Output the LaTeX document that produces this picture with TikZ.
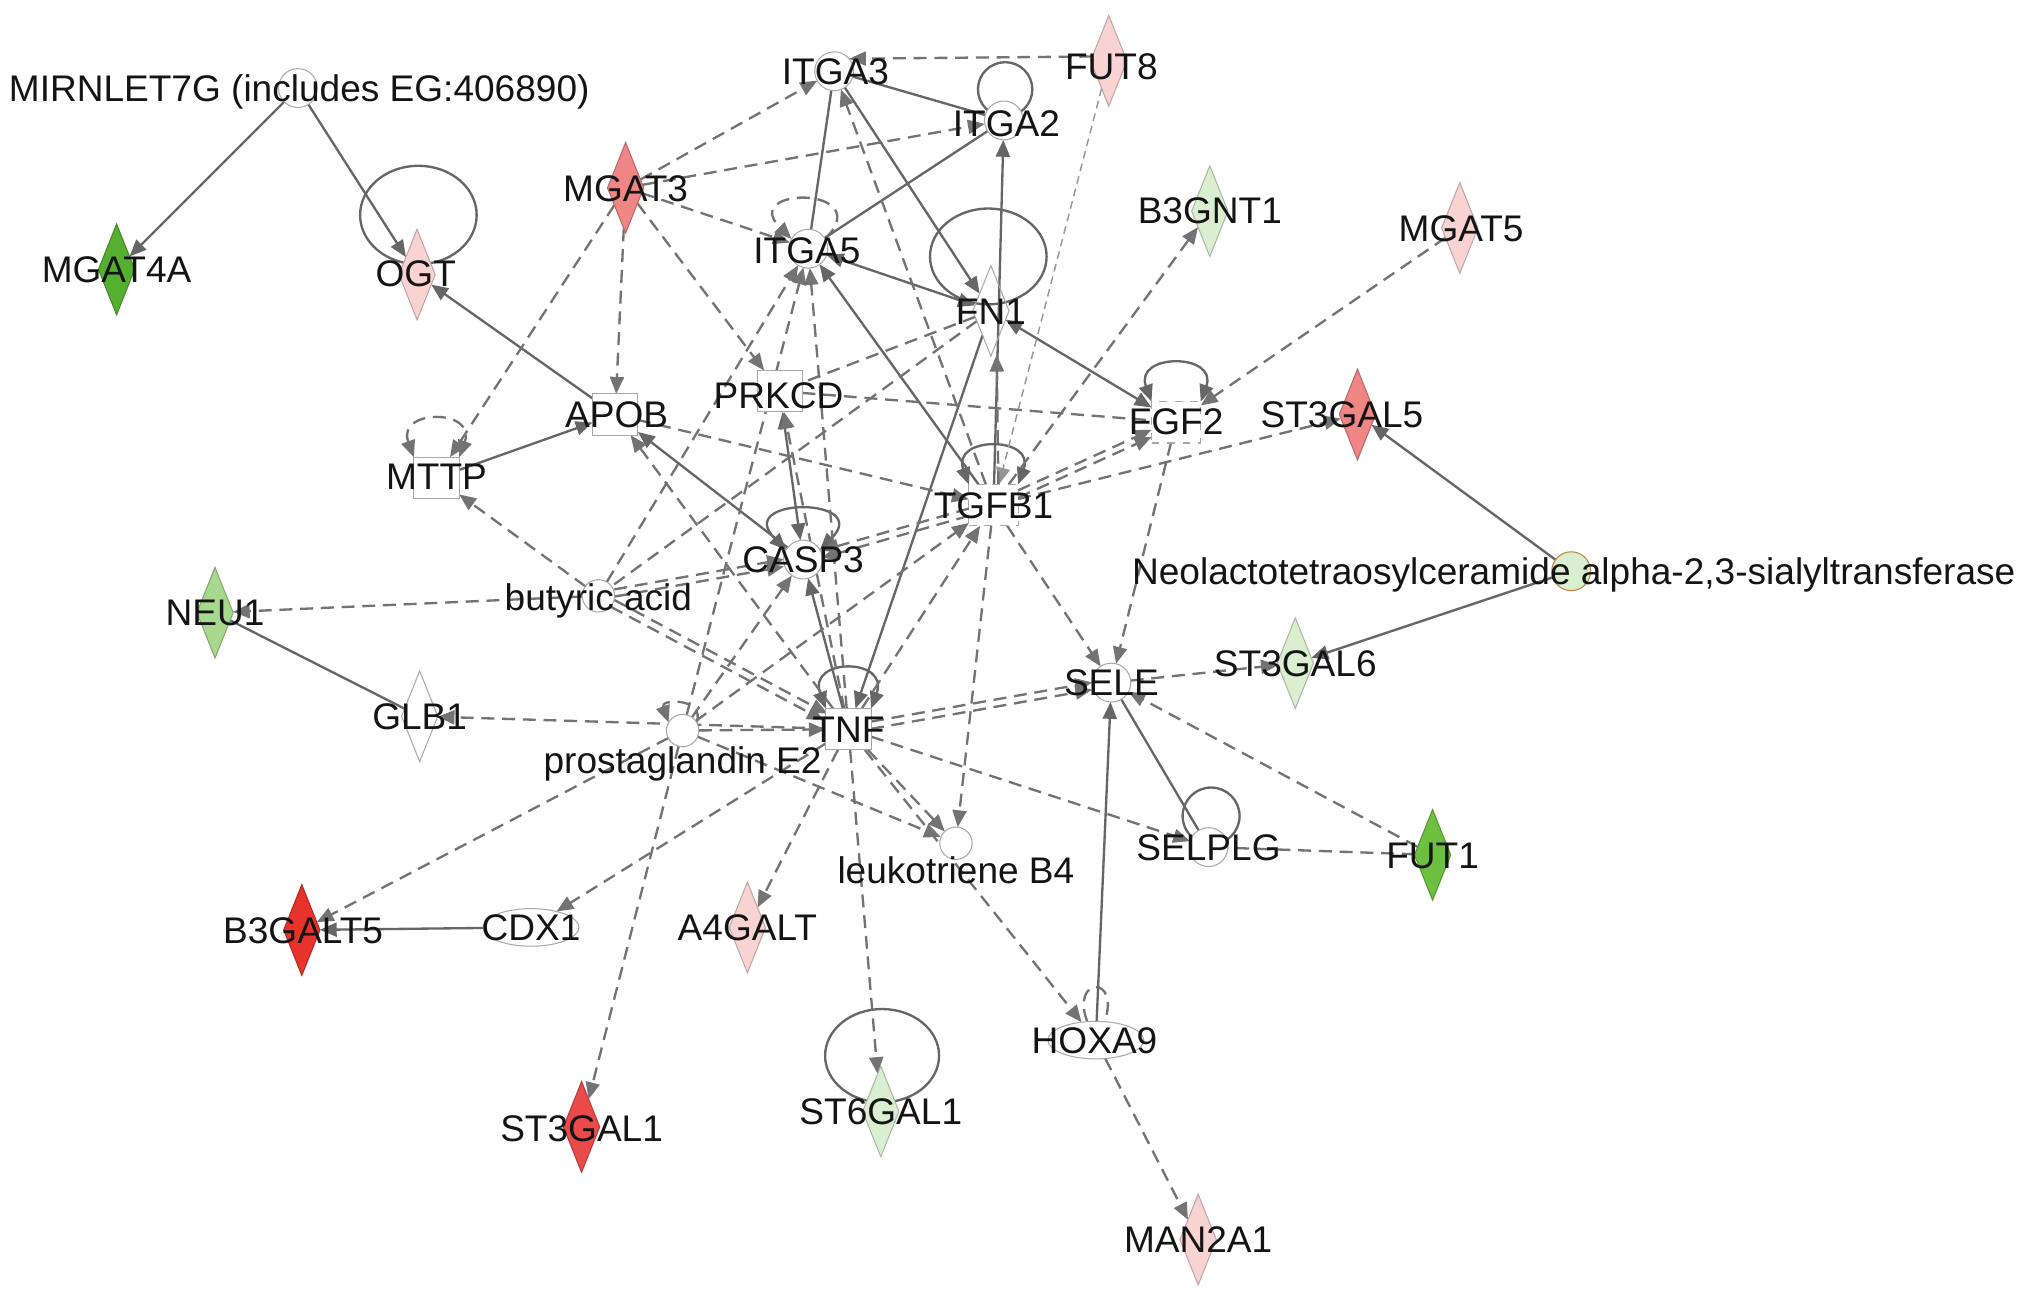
\documentclass[tikz,border=0pt]{standalone}
\usepackage{fontspec}
\setmainfont{Liberation Sans}
\usetikzlibrary{shapes.geometric,arrows.meta,backgrounds}
\definecolor{edgec}{HTML}{666666}
\definecolor{dashc}{HTML}{737373}
\definecolor{gA}{HTML}{55B030}
\definecolor{gB}{HTML}{6CC040}
\definecolor{gC}{HTML}{A8D88E}
\definecolor{gD}{HTML}{D9EFD0}
\definecolor{pA}{HTML}{F9D2D2}
\definecolor{rA}{HTML}{EF8585}
\definecolor{rB}{HTML}{E8332B}
\definecolor{rC}{HTML}{E94A4A}
\definecolor{shapec}{HTML}{A8A8A8}
\begin{document}
\begin{tikzpicture}[x=0.5pt,y=0.5pt,
  every node/.style={inner sep=0pt,outer sep=0pt},
  lbl/.style={font=\fontsize{14.3}{16}\selectfont, text=black!92, text height=10.2pt, text depth=0pt},
  dia/.style={diamond, fill=#1, draw=#1!78!black, line width=0.4pt, minimum width=14pt, minimum height=35pt, shape aspect=0.4},
  ent/.style={circle, draw=shapec, fill=white, line width=0.4pt, minimum size=15pt},
  chem/.style={circle, draw=shapec, fill=white, line width=0.4pt, minimum size=12.5pt},
  rbox/.style={rectangle, draw=shapec, fill=white, line width=0.4pt, minimum width=17.5pt, minimum height=16pt},
  dbox/.style={rectangle, draw=shapec, dashed, line width=0.4pt, minimum width=19pt, minimum height=16pt},
  ell/.style={ellipse, draw=shapec, fill=white, line width=0.4pt, minimum width=37pt, minimum height=14.5pt},
  sl/.style={draw=edgec, line width=0.9pt},
  dl/.style={draw=dashc, line width=0.9pt, dash pattern=on 5pt off 3pt},
  fdl/.style={draw=dashc!75, line width=0.55pt, dash pattern=on 3pt off 2pt},
  ah/.style={-{Triangle[length=6.5pt,width=5.4pt]}},
  bh/.style={{Triangle[length=6.5pt,width=5.4pt]}-{Triangle[length=6.5pt,width=5.4pt]}}
]
\useasboundingbox (0,0) rectangle (1568,-1005);

% ---------- shapes ----------
\node[dia=gA] (mgat4a) at (90,-208) {};
\node[dia=pA] (ogt) at (322,-212) {};
\node[dia=rA] (mgat3) at (483,-145) {};
\node[dia=pA] (fut8) at (856,-47) {};
\node[dia=gD] (b3gnt1) at (934,-163) {};
\node[dia=pA] (mgat5) at (1127,-176) {};
\node[dia=white, fill=none, draw=shapec] (fn1) at (765,-240) {};
\node[dia=rA] (st3gal5) at (1048,-320) {};
\node[dia=gC] (neu1) at (166,-473) {};
\node[dia=gD] (st3gal6) at (1000,-512) {};
\node[dia=white, draw=shapec] (glb1) at (324,-553) {};
\node[dia=gB] (fut1) at (1106,-660) {};
\node[dia=rB] (b3galt5) at (233,-718) {};
\node[dia=pA] (a4galt) at (577,-716) {};
\node[dia=rC] (st3gal1) at (449,-870) {};
\node[dia=gD] (st6gal1) at (680,-858) {};
\node[dia=pA] (man2a1) at (925,-957) {};

\node[ent] (mir) at (230,-68) {};
\node[ent] (itga3) at (644,-55) {};
\node[ent] (itga2) at (775,-93) {};
\node[ent] (itga5) at (624,-192) {};
\node[ent] (casp3) at (620,-432) {};
\node[ent] (sele) at (858,-527) {};
\node[ent] (selplg) at (933,-654) {};
\node[ent, fill=gD, draw=orange!55!gray] (neo) at (1213,-441) {};
\node[chem] (but) at (462,-460) {};
\node[chem] (pge) at (527,-564) {};
\node[chem] (ltb) at (738,-651) {};

\node[rbox] (prkcd) at (602,-302) {};
\node[rbox] (apob) at (475,-320) {};
\node[rbox] (mttp) at (337,-369) {};
\node[rbox] (tnf) at (655,-563) {};
\node[dbox] (fgf2) at (908,-326) {};
\node[dbox] (tgfb1) at (767,-390) {};

\node[ell] (cdx1) at (410,-716) {};
\node[ell] (hoxa9) at (846,-803) {};

% ---------- connectors ----------
\begin{pgfonlayer}{background}
\fill[white] (0,0) rectangle (1568,-1005);

% self loops
\draw[sl] (323,-166) ellipse [x radius=45, y radius=38];
\draw[sl] (776,-69) circle [radius=21];
\draw[sl] (763,-198) ellipse [x radius=45, y radius=37];
\draw[sl] (681,-815) ellipse [x radius=44, y radius=36];
\draw[sl] (935,-630) circle [radius=22];
\draw[dl,ah] (itga5.30) .. controls +(45:58) and +(135:58) .. (itga5.150);
\draw[sl,bh] (casp3.150) .. controls +(135:58) and +(45:58) .. (casp3.30);
\draw[sl,bh] (tnf.north west) .. controls +(110:42) and +(70:42) .. (tnf.north east);
\draw[sl,bh] (tgfb1.north west) .. controls +(110:40) and +(70:40) .. (tgfb1.north east);
\draw[sl,bh] (fgf2.north west) .. controls +(110:40) and +(70:40) .. (fgf2.north east);
\draw[dl,bh] (mttp.north west) .. controls +(110:40) and +(70:40) .. (mttp.north east);
\draw[dl] (hoxa9.115) .. controls +(110:38) and +(70:38) .. (hoxa9.65);
\draw[dl,ah] (pge.30) .. controls +(70:20) and +(110:20) .. (pge.150);

% solid relations
\draw[sl,ah] (mir) -- (mgat4a);
\draw[sl,ah] (mir) -- (ogt);
\draw[sl,ah] (apob) -- (ogt);
\draw[sl] (itga3) -- (itga2);
\draw[sl] (itga3) -- (itga5);
\draw[sl,ah] (itga3) -- (fn1);
\draw[sl] (itga2) -- (itga5);
\draw[sl,bh] (itga5) -- (fn1);
\draw[sl,bh] (fn1) -- (fgf2);
\draw[sl,ah] (tgfb1) -- (itga2);
\draw[sl,ah] (tgfb1) -- (itga5);
\draw[sl,ah] (fn1) -- (tnf);
\draw[sl,ah] (mttp) -- (apob);
\draw[sl,ah] (casp3) -- (apob);
\draw[sl,bh] (prkcd) -- (casp3);
\draw[sl,ah] (tnf) -- (casp3);
\draw[sl] (neu1) -- (glb1);
\draw[sl,ah] (cdx1) -- (b3galt5);
\draw[sl,ah] (hoxa9) -- (sele);
\draw[sl] (sele) -- (selplg);
\draw[sl,ah] (neo) -- (st3gal5);
\draw[sl,ah] (neo) -- (st3gal6);

% dashed relations
\draw[dl,ah] (fut8.165) -- (itga3.40);
\draw[fdl,ah] (fut8) -- (tgfb1);
\draw[dl,ah] (mgat3) -- (itga3);
\draw[dl,ah] (mgat3) -- (itga2);
\draw[dl,ah] (mgat3) -- (itga5);
\draw[dl,ah] (mgat3) -- (prkcd);
\draw[dl,ah] (mgat3) -- (apob);
\draw[dl,ah] (mgat3) -- (mttp);
\draw[dl,ah] (tgfb1) -- (itga3);
\draw[dl,ah,transform canvas={xshift=2pt}] (tgfb1) -- (fn1);
\draw[dl,ah] (but) -- (itga5);
\draw[dl,ah] (tnf) -- (itga5);
\draw[dl,ah] (pge) -- (itga5);
\draw[dl] (fn1) -- (prkcd);
\draw[dl] (fn1) -- (but);
\draw[dl] (prkcd) -- (fgf2);
\draw[dl,ah] (tnf) -- (prkcd);
\draw[dl,ah] (tnf) -- (apob);
\draw[dl,ah] (apob) -- (tgfb1);
\draw[dl,ah] (but) -- (mttp);
\draw[dl,ah] (but) -- (neu1);
\draw[dl,ah,transform canvas={yshift=1.4pt}] (but) -- (casp3);
\draw[dl,ah,transform canvas={yshift=-1.4pt}] (but) -- (casp3);
\draw[dl,ah,transform canvas={shift={(0.7pt,1.3pt)}}] (but) -- (tnf);
\draw[dl,ah,transform canvas={shift={(-0.7pt,-1.3pt)}}] (but) -- (tnf);
\draw[dl,ah,transform canvas={yshift=1.4pt}] (tgfb1) -- (casp3);
\draw[dl,ah,transform canvas={yshift=-1.4pt}] (tgfb1) -- (casp3);
\draw[dl,ah,transform canvas={yshift=1.4pt}] (tgfb1) -- (fgf2);
\draw[dl,ah,transform canvas={yshift=-1.4pt}] (tgfb1) -- (fgf2);
\draw[dl,ah] (tgfb1) -- (st3gal5);
\draw[dl,ah] (tgfb1) -- (b3gnt1);
\draw[dl,ah] (mgat5) -- (fgf2);
\draw[dl,ah] (tgfb1) -- (sele);
\draw[dl,ah] (fgf2) -- (sele);
\draw[dl,ah,transform canvas={yshift=1.4pt}] (tnf) -- (sele);
\draw[dl,ah,transform canvas={yshift=-1.4pt}] (tnf) -- (sele);
\draw[dl,ah] (sele) -- (st3gal6);
\draw[dl,ah] (fut1) -- (sele);
\draw[dl] (fut1) -- (selplg);
\draw[dl,ah] (tnf) -- (selplg);
\draw[dl,ah] (tgfb1) -- (ltb);
\draw[dl,ah] (tnf) -- (ltb);
\draw[dl,ah] (tnf) -- (hoxa9);
\draw[dl,ah] (hoxa9) -- (man2a1);
\draw[dl,ah] (tnf) -- (st6gal1);
\draw[dl,ah] (tnf) -- (a4galt);
\draw[dl,ah] (tnf) -- (cdx1);
\draw[dl,ah] (tnf) -- (glb1);
\draw[dl,ah] (tnf) -- (tgfb1);
\draw[dl,ah] (pge) -- (tnf);
\draw[dl,ah] (pge) -- (casp3);
\draw[dl,ah] (pge) -- (tgfb1);
\draw[dl,ah] (pge) -- (ltb);
\draw[dl,ah] (pge) -- (b3galt5);
\draw[dl,ah] (pge) -- (st3gal1);
\end{pgfonlayer}

% ---------- labels ----------
\node[lbl] (l-mir) at (231,-68) {MIRNLET7G (includes EG:406890)};
\node[lbl] (l-mgat4a) at (90,-208) {MGAT4A};
\node[lbl] (l-ogt) at (321,-211) {OGT};
\node[lbl] (l-mgat3) at (483,-145) {MGAT3};
\node[lbl] (l-itga3) at (645,-55) {ITGA3};
\node[lbl] (l-itga2) at (777,-95) {ITGA2};
\node[lbl] (l-fut8) at (858,-51) {FUT8};
\node[lbl] (l-b3gnt1) at (934,-162) {B3GNT1};
\node[lbl] (l-mgat5) at (1128,-176) {MGAT5};
\node[lbl] (l-itga5) at (623,-193) {ITGA5};
\node[lbl] (l-fn1) at (765,-240) {FN1};
\node[lbl] (l-prkcd) at (601,-305) {PRKCD};
\node[lbl] (l-apob) at (476,-320) {APOB};
\node[lbl] (l-mttp) at (337,-368) {MTTP};
\node[lbl] (l-fgf2) at (908,-325) {FGF2};
\node[lbl] (l-st3gal5) at (1036,-320) {ST3GAL5};
\node[lbl] (l-tgfb1) at (767,-390) {TGFB1};
\node[lbl] (l-casp3) at (620,-432) {CASP3};
\node[lbl] (l-but) at (462,-461) {butyric acid};
\node[lbl] (l-neu1) at (166,-473) {NEU1};
\node[lbl] (l-neo) at (1215,-441) {Neolactotetraosylceramide alpha-2,3-sialyltransferase};
\node[lbl] (l-sele) at (858,-527) {SELE};
\node[lbl] (l-st3gal6) at (1000,-512) {ST3GAL6};
\node[lbl] (l-glb1) at (324,-553) {GLB1};
\node[lbl] (l-tnf) at (655,-563) {TNF};
\node[lbl] (l-pge) at (527,-587) {prostaglandin E2};
\node[lbl] (l-ltb) at (738,-672) {leukotriene B4};
\node[lbl] (l-selplg) at (933,-654) {SELPLG};
\node[lbl] (l-fut1) at (1106,-660) {FUT1};
\node[lbl] (l-b3galt5) at (234,-718) {B3GALT5};
\node[lbl] (l-cdx1) at (410,-716) {CDX1};
\node[lbl] (l-a4galt) at (577,-716) {A4GALT};
\node[lbl] (l-hoxa9) at (845,-803) {HOXA9};
\node[lbl] (l-st3gal1) at (449,-871) {ST3GAL1};
\node[lbl] (l-st6gal1) at (680,-858) {ST6GAL1};
\node[lbl] (l-man2a1) at (925,-957) {MAN2A1};
\end{tikzpicture}
\end{document}
